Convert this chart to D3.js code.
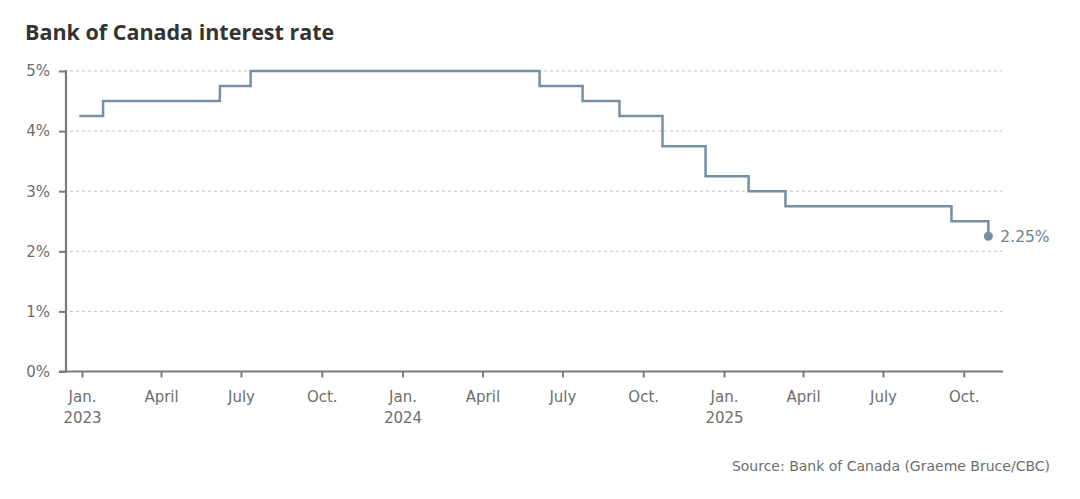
<!DOCTYPE html>
<html>
<head>
<meta charset="utf-8">
<script src="https://cdn.jsdelivr.net/npm/d3@7/dist/d3.min.js"></script>
<style>
  html, body { margin: 0; padding: 0; background: #fff; }
  svg { display: block; }
</style>
</head>
<body>
<svg id="chart" width="1080" height="499"></svg>
<script>
// Rate decision dates and policy rate (%) after each decision
const dates = ["2022-12-29", "2023-01-25", "2023-06-07", "2023-07-12", "2024-06-05", "2024-07-24",
               "2024-09-04", "2024-10-23", "2024-12-11", "2025-01-29", "2025-03-12", "2025-09-17", "2025-10-29"];
const rates = [4.25, 4.5, 4.75, 5.0, 4.75, 4.5, 4.25, 3.75, 3.25, 3.0, 2.75, 2.5, 2.25];
const yTicks = [0, 1, 2, 3, 4, 5];
const xTickDates = ["2023-01-01", "2023-04-01", "2023-07-01", "2023-10-01", "2024-01-01", "2024-04-01",
                    "2024-07-01", "2024-10-01", "2025-01-01", "2025-04-01", "2025-07-01", "2025-10-01"];
const xTickLabels = ["Jan.|2023", "April", "July", "Oct.", "Jan.|2024", "April", "July", "Oct.", "Jan.|2025", "April", "July", "Oct."];
const title = "Bank of Canada interest rate";
const source = "Source: Bank of Canada (Graeme Bruce/CBC)";
const endLabel = "2.25%";

const parse = d3.utcParse("%Y-%m-%d");
const data = dates.map((d, i) => ({ date: parse(d), rate: rates[i] }));

const svg = d3.select("#chart");
const lineColor = "#7590a6";
const axisColor = "#7a7a7a";
const textColor = "#6e6e6e";
const labelFont = "'DejaVu Sans', sans-serif";

const x = d3.scaleUtc()
  .domain([parse("2023-01-01"), parse("2025-01-01")])
  .range([82, 724]);
const y = d3.scaleLinear().domain([0, 5]).range([371.5, 71]);

// title
svg.append("text")
  .attr("x", 25).attr("y", 40)
  .style("font-family", "'Open Sans', sans-serif")
  .style("font-size", "21.5px").style("font-weight", 700)
  .attr("fill", "#333")
  .text(title);

// gridlines
svg.append("g").selectAll("line")
  .data(yTicks.filter(d => d > 0))
  .join("line")
  .attr("x1", 70).attr("x2", 1002)
  .attr("y1", d => y(d)).attr("y2", d => y(d))
  .attr("stroke", "#c4c4c4").attr("stroke-width", 1)
  .attr("stroke-dasharray", "3,3");

// y axis
const yAxis = svg.append("g")
  .attr("transform", "translate(66,0)")
  .call(d3.axisLeft(y).tickValues(yTicks).tickFormat(d => d + "%").tickSize(7).tickSizeOuter(0).tickPadding(9));
yAxis.select(".domain").attr("stroke", axisColor).attr("stroke-width", 2.2)
  .attr("d", `M0,${y(0)}V70`);
yAxis.selectAll(".tick line").attr("stroke", axisColor).attr("stroke-width", 2);
yAxis.selectAll(".tick text").attr("fill", textColor)
  .style("font-size", "15px").style("font-family", labelFont);

// x axis
const xAxis = svg.append("g")
  .attr("transform", `translate(0,${y(0)})`)
  .call(d3.axisBottom(x).tickValues(xTickDates.map(parse)).tickSize(6).tickSizeOuter(0).tickFormat(""));
xAxis.select(".domain").attr("stroke", axisColor).attr("stroke-width", 2.2)
  .attr("d", "M59,0H1003");
xAxis.selectAll(".tick line").attr("stroke", axisColor).attr("stroke-width", 2);
xAxis.selectAll(".tick").each(function(d, i) {
  const parts = xTickLabels[i].split("|");
  const t = d3.select(this).append("text")
    .attr("fill", textColor)
    .attr("text-anchor", "middle")
    .style("font-size", "15px").style("font-family", labelFont);
  parts.forEach((p, j) => t.append("tspan").attr("x", 0).attr("y", 30 + j * 21).text(p));
});

// step line
const line = d3.line()
  .x(d => x(d.date))
  .y(d => y(d.rate))
  .curve(d3.curveStepAfter);
svg.append("path")
  .datum(data)
  .attr("d", line)
  .attr("fill", "none")
  .attr("stroke", lineColor)
  .attr("stroke-width", 2.5);

// end dot & label
const last = data[data.length - 1];
svg.append("circle")
  .attr("cx", x(last.date)).attr("cy", y(last.rate)).attr("r", 4.5)
  .attr("fill", lineColor);
svg.append("text")
  .attr("x", x(last.date) + 12).attr("y", y(last.rate) + 5.5)
  .attr("fill", "#6a8197")
  .style("font-size", "15.5px").style("font-family", labelFont)
  .text(endLabel);

// source
svg.append("text")
  .attr("x", 1050).attr("y", 471)
  .attr("text-anchor", "end")
  .attr("fill", textColor)
  .style("font-size", "14px").style("font-family", labelFont)
  .text(source);
</script>
</body>
</html>
